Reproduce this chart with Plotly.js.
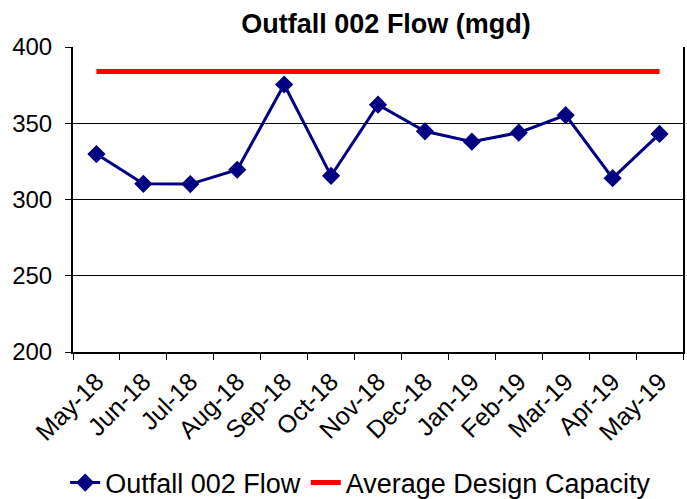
<!DOCTYPE html>
<html><head><meta charset="utf-8">
<script src="https://cdn.plot.ly/plotly-3.0.1.min.js"></script>
<style>html,body{margin:0;padding:0;background:#fff}</style>
</head><body><div id="chart" style="width:687px;height:499px"></div>
<script>
const months = ["May-18","Jun-18","Jul-18","Aug-18","Sep-18","Oct-18","Nov-18","Dec-18","Jan-19","Feb-19","Mar-19","Apr-19","May-19"];
const flow = [329.8,310.3,310.1,319.5,375.4,315.5,362.2,344.7,337.9,343.8,355.3,314,343];
const capacity = [384,384,384,384,384,384,384,384,384,384,384,384,384];

const font = "Arial, 'Liberation Sans', sans-serif";
const data = [
  {x: months, y: flow, type: 'scatter', mode: 'lines+markers', name: 'Outfall 002 Flow',
   line: {color: '#000080', width: 3}, marker: {symbol: 'diamond', size: 14, color: '#000080'}},
  {x: months, y: capacity, type: 'scatter', mode: 'lines', name: 'Average Design Capacity',
   line: {color: '#ff0000', width: 5}}
];
const layout = {
  width: 687, height: 499,
  margin: {l: 73, r: 4, t: 47, b: 147},
  paper_bgcolor: '#fff', plot_bgcolor: '#fff',
  title: {text: '<b>Outfall 002 Flow (mgd)</b>', font: {family: font, size: 27, color: '#000'},
          x: 0.562, xanchor: 'center', y: 0.952, yanchor: 'middle'},
  xaxis: {type: 'category', range: [-0.5, 12.5], tickangle: -45, showgrid: false, automargin: false,
          showline: true, linecolor: '#000', linewidth: 2, mirror: false,
          ticks: 'outside', tickson: 'boundaries', ticklen: 6, tickcolor: '#000', ticklabelstandoff: 3,
          tickfont: {family: font, size: 25, color: '#000'}, fixedrange: true},
  yaxis: {range: [200, 400], tickvals: [200,250,300,350,400], showgrid: true, gridcolor: '#000', gridwidth: 1,
          showline: true, linecolor: '#000', linewidth: 2, mirror: true, zeroline: false, automargin: false,
          ticks: 'outside', ticklen: 6, tickcolor: '#000', ticklabelstandoff: 8,
          tickfont: {family: font, size: 24, color: '#000'}, fixedrange: true},
  showlegend: true,
  legend: {orientation: 'h', x: 0.525, xanchor: 'center', xref: 'container', yref: 'container', y: 0.032, yanchor: 'middle',
           font: {family: font, size: 27, color: '#000'}, traceorder: 'normal'}
};
Plotly.newPlot('chart', data, layout, {displayModeBar: false, staticPlot: true});
</script></body></html>
